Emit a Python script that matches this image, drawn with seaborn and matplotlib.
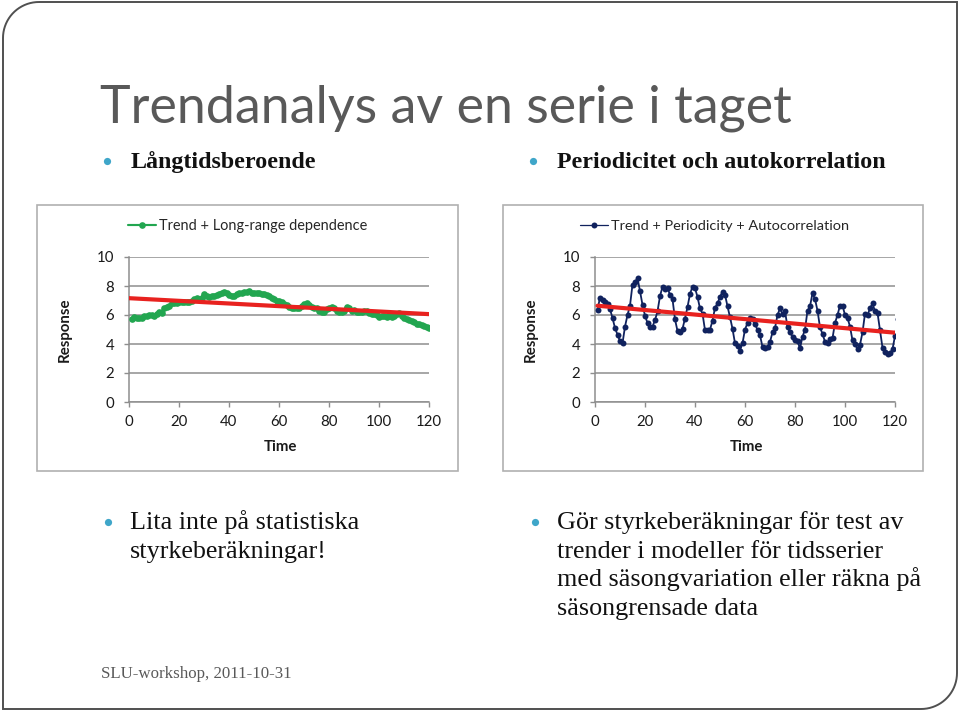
import numpy as np
import pandas as pd
import matplotlib
matplotlib.use("Agg")
import matplotlib.pyplot as plt
import seaborn as sns
from matplotlib.patches import Rectangle, PathPatch
from matplotlib.path import Path
from matplotlib.lines import Line2D

# ---------------- data ----------------
time_left = list(range(1, 121))
resp_left = [5.75, 5.85, 5.80, 5.78, 5.82, 5.90, 5.95, 6.02, 5.98, 5.90,
             6.10, 6.20, 6.15, 6.50, 6.58, 6.65, 6.80, 6.85, 6.80, 6.88,
             6.93, 6.90, 6.87, 6.92, 6.95, 7.10, 7.15, 7.12, 7.20, 7.45,
             7.30, 7.22, 7.28, 7.33, 7.40, 7.48, 7.55, 7.60, 7.50, 7.38,
             7.30, 7.33, 7.45, 7.50, 7.55, 7.57, 7.60, 7.65, 7.55, 7.50,
             7.55, 7.52, 7.48, 7.45, 7.38, 7.30, 7.20, 7.10, 6.98, 6.95,
             6.88, 6.78, 6.68, 6.55, 6.48, 6.45, 6.50, 6.48, 6.60, 6.75,
             6.80, 6.70, 6.58, 6.50, 6.45, 6.28, 6.22, 6.18, 6.42, 6.45,
             6.58, 6.50, 6.30, 6.22, 6.19, 6.25, 6.58, 6.48, 6.30, 6.32,
             6.20, 6.19, 6.22, 6.30, 6.28, 6.12, 6.07, 6.10, 6.00, 5.85,
             5.92, 5.90, 5.84, 5.90, 5.86, 5.95, 6.05, 6.12, 5.90, 5.80,
             5.72, 5.68, 5.60, 5.55, 5.40, 5.35, 5.28, 5.26, 5.18, 5.10]
trend_left_time = [0, 120]
trend_left_resp = [7.16, 6.06]

time_right = list(range(1, 122))
resp_right = [6.37, 7.20, 7.05, 6.90, 6.75, 6.40, 5.80, 5.10, 4.65, 4.20,
              4.05, 5.20, 6.00, 6.65, 8.10, 8.25, 8.55, 7.65, 6.70, 5.95,
              5.45, 5.20, 5.20, 5.65, 6.25, 7.30, 7.95, 7.80, 7.85, 7.40,
              7.10, 5.70, 4.90, 4.80, 5.05, 5.75, 6.55, 7.45, 7.95, 7.85,
              7.25, 6.45, 6.10, 4.95, 5.00, 5.00, 5.60, 6.50, 6.80, 7.25,
              7.60, 7.40, 6.60, 5.85, 5.05, 4.05, 3.85, 3.55, 4.05, 5.00,
              5.45, 5.80, 5.70, 5.40, 4.95, 4.60, 3.80, 3.72, 3.80, 4.15,
              4.80, 5.10, 6.00, 6.45, 6.05, 6.28, 5.15, 4.80, 4.50, 4.25,
              4.20, 3.70, 4.50, 5.00, 6.30, 6.60, 7.50, 7.10, 6.30, 5.15,
              4.70, 4.15, 4.05, 4.35, 4.40, 5.45, 6.00, 6.65, 6.65, 6.00,
              5.80, 5.20, 4.25, 4.00, 3.65, 3.95, 4.80, 6.10, 6.00, 6.45,
              6.80, 6.25, 6.15, 4.95, 3.75, 3.45, 3.30, 3.35, 3.65, 4.55,
              5.70]
trend_right_time = [1, 120]
trend_right_resp = [6.64, 4.78]

y_ticks = [0, 2, 4, 6, 8, 10]
x_ticks = [0, 20, 40, 60, 80, 100, 120]

title = "Trendanalys av en serie i taget"
head_left = "Långtidsberoende"
head_right = "Periodicitet och autokorrelation"
body_left = ["Lita inte på statistiska", "styrkeberäkningar!"]
body_right = ["Gör styrkeberäkningar för test av",
              "trender i modeller för tidsserier",
              "med säsongvariation eller räkna på",
              "säsongrensade data"]
footer = "SLU-workshop, 2011-10-31"
legend_left = "Trend + Long-range dependence"
legend_right = "Trend + Periodicity + Autocorrelation"

# ---------------- style ----------------
sns.set_theme(style="white")
plt.rcParams['font.family'] = ['Lato', 'DejaVu Sans']

W, H = 960, 712
fig = plt.figure(figsize=(9.6, 7.12), dpi=100)
fig.patch.set_facecolor('white')


def fx(x):
    return x / W


def fy(y):
    return 1 - y / H


renderer = fig.canvas.get_renderer()


def fit(t, target_w):
    w = t.get_window_extent(renderer).width
    t.set_fontsize(t.get_fontsize() * target_w / w)
    return t.get_fontsize()


GREEN = '#22a650'
NAVY = '#10225e'
RED = '#e8221f'
GRID = '#8e8e8e'
SERIF = ['Liberation Serif', 'DejaVu Serif']

# ---------------- slide frame ----------------
R = 36
L_, T_, Rt, B_ = 3, 2, 957, 709
pts = [(L_ + R, T_), (Rt, T_), (Rt, B_ - R)]
ang = np.linspace(0, np.pi / 2, 20)
pts += [(Rt - R + R * np.cos(a), B_ - R + R * np.sin(a)) for a in ang]
pts += [(L_, B_), (L_, T_ + R)]
ang2 = np.linspace(np.pi, 1.5 * np.pi, 20)
pts += [(L_ + R + R * np.cos(a), T_ + R + R * np.sin(a)) for a in ang2]
verts = [(fx(x), fy(y)) for x, y in pts]
frame = PathPatch(Path(verts, closed=False), transform=fig.transFigure,
                  fill=False, edgecolor='#505050', lw=1.4)
fig.add_artist(frame)

# ---------------- texts ----------------
t = fig.text(fx(100), fy(122), title, color='#595959', fontsize=36,
             family=['Lato', 'DejaVu Sans'], va='baseline', ha='left')
fit(t, 693)

BULLET = '#3fa6c9'


def bullet(x, y, size=5.2):
    fig.add_artist(Line2D([fx(x)], [fy(y)], marker='o', markersize=size,
                          color=BULLET, markeredgewidth=0,
                          transform=fig.transFigure))


bullet(107, 161)
bullet(533, 161)
t = fig.text(fx(131), fy(168), head_left, family=SERIF, weight='bold',
             fontsize=14, va='baseline', color='#111111')
hs = fit(t, 185)
t = fig.text(fx(557), fy(168), head_right, family=SERIF, weight='bold',
             fontsize=hs, va='baseline', color='#111111')

bullet(108, 522)
bullet(535, 522)
t = fig.text(fx(130), fy(529), body_left[0], family=SERIF, fontsize=18,
             va='baseline', color='#111111')
bs = fit(t, 228)
fig.text(fx(130), fy(558), body_left[1], family=SERIF, fontsize=bs,
         va='baseline', color='#111111')
for i, line in enumerate(body_right):
    fig.text(fx(557), fy(529 + 28.6 * i), line, family=SERIF, fontsize=bs,
             va='baseline', color='#111111')

t = fig.text(fx(101), fy(678), footer, family=SERIF, fontsize=11,
             va='baseline', color='#595959')
fit(t, 191)

# ---------------- charts ----------------
df_left = pd.DataFrame({'Time': time_left, 'Response': resp_left})
df_right = pd.DataFrame({'Time': time_right, 'Response': resp_right})
tr_left = pd.DataFrame({'Time': trend_left_time, 'Response': trend_left_resp})
tr_right = pd.DataFrame({'Time': trend_right_time, 'Response': trend_right_resp})

charts = [
    dict(box=(37, 205, 458, 471), plot=(129, 257, 429, 402), df=df_left,
         tr=tr_left, color=GREEN, ms=4.8, lw=2.2, leg=legend_left,
         leg_xy=(128, 226), leg_w=209, ylab_x=65, time_x=280),
    dict(box=(503, 205, 923, 471), plot=(595, 257, 895, 402), df=df_right,
         tr=tr_right, color=NAVY, ms=4.3, lw=1.3, leg=legend_right,
         leg_xy=(580, 226), leg_w=238, ylab_x=531, time_x=746),
]

for c in charts:
    bx0, by0, bx1, by1 = c['box']
    fig.add_artist(Rectangle((fx(bx0), fy(by1)), (bx1 - bx0) / W,
                             (by1 - by0) / H, transform=fig.transFigure,
                             fill=False, edgecolor='#b0b0b0', lw=1.2))
    px0, py0, px1, py1 = c['plot']
    ax = fig.add_axes([fx(px0), fy(py1), (px1 - px0) / W, (py1 - py0) / H])
    ax.set_facecolor('none')
    sns.lineplot(data=c['df'], x='Time', y='Response', ax=ax,
                 color=c['color'], marker='o', markersize=c['ms'],
                 markeredgewidth=0, linewidth=c['lw'], legend=False,
                 zorder=3)
    sns.lineplot(data=c['tr'], x='Time', y='Response', ax=ax, color=RED,
                 linewidth=3.0, legend=False, zorder=4)
    ax.set_xlim(0, 120)
    ax.set_ylim(0, 10)
    ax.set_xticks(x_ticks)
    ax.set_yticks(y_ticks)
    ax.set_xticklabels([str(v) for v in x_ticks])
    ax.set_yticklabels([str(v) for v in y_ticks])
    ax.set_xlabel('')
    ax.set_ylabel('')
    ax.grid(axis='y', color=GRID, linewidth=1.1)
    ax.grid(axis='x', visible=False)
    ax.set_axisbelow(True)
    for s in ['top', 'right']:
        ax.spines[s].set_visible(False)
    for s in ['left', 'bottom']:
        ax.spines[s].set_color(GRID)
        ax.spines[s].set_linewidth(1.1)
    ax.tick_params(axis='both', direction='out', length=3.6, width=1.0,
                   color=GRID, labelsize=10.8, labelcolor='#1a1a1a')
    ax.tick_params(axis='y', pad=7.0, left=True)
    ax.tick_params(axis='x', pad=6.0, bottom=True)

    # legend
    h = Line2D([], [], color=c['color'], marker='o', markersize=c['ms'],
               markeredgewidth=0, linewidth=c['lw'] * 0.7)
    leg = ax.legend(handles=[h], labels=[c['leg']], loc='center left',
                    bbox_to_anchor=(fx(c['leg_xy'][0]), fy(c['leg_xy'][1])),
                    bbox_transform=fig.transFigure, frameon=False,
                    fontsize=10, handlelength=2.0, handletextpad=0.2,
                    borderpad=0, borderaxespad=0)
    lt = leg.get_texts()[0]
    fit(lt, c['leg_w'])

    fig.text(fx(c['ylab_x']), fy(330), 'Response', rotation=90,
             ha='center', va='center', fontsize=10.8, weight='bold',
             color='#1a1a1a')
    fig.text(fx(c['time_x']), fy(447), 'Time', ha='center', va='center',
             fontsize=10.8, weight='bold', color='#1a1a1a')

fig.savefig('out.png', dpi=100, facecolor='white')
